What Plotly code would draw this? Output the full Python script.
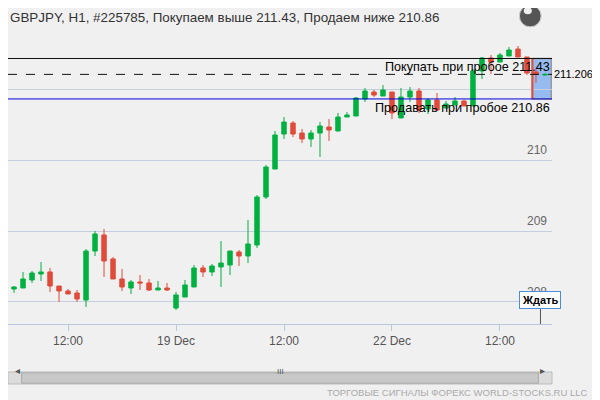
import plotly.graph_objects as go

idx = list(range(60))
opens = [208.183,208.197,208.310,208.394,208.423,208.225,208.155,208.127,208.028,208.718,
         208.944,208.606,208.324,208.197,208.282,208.268,208.169,208.197,207.915,208.070,
         208.211,208.479,208.423,208.493,208.521,208.704,208.648,208.803,209.479,209.873,
         210.366,210.521,210.380,210.296,210.380,210.465,210.408,210.606,210.620,210.859,
         210.958,210.901,210.958,210.592,210.887,210.972,210.718,210.845,210.732,210.775,
         210.831,210.761,211.254,211.437,211.380,211.465,211.563,211.451,211.239,211.197]
highs = [208.225,208.423,208.437,208.563,208.479,208.225,208.183,208.169,208.746,209.000,
         209.028,208.634,208.465,208.310,208.380,208.324,208.296,208.268,208.141,208.310,
         208.521,208.521,208.535,208.859,208.718,208.732,209.155,209.507,209.930,210.408,
         210.606,210.549,210.437,210.423,210.535,210.577,210.662,210.676,210.887,211.014,
         210.986,211.056,210.958,211.014,211.028,211.014,210.873,210.944,210.831,210.887,
         210.845,211.282,211.451,211.479,211.507,211.592,211.606,211.451,211.296,211.220]
lows = [208.127,208.197,208.268,208.296,208.141,208.000,208.113,208.000,207.930,208.648,
        208.352,208.324,208.155,208.113,208.169,208.155,208.169,208.155,207.887,208.070,
        208.211,208.352,208.366,208.211,208.380,208.507,208.549,208.761,209.451,209.873,
        210.296,210.324,210.239,210.183,210.042,210.268,210.408,210.606,210.620,210.817,
        210.887,210.901,210.577,210.592,210.817,210.662,210.648,210.690,210.732,210.775,
        210.761,210.761,211.141,211.211,211.380,211.465,211.451,211.197,211.085,211.190]
closes = [208.211,208.324,208.408,208.423,208.225,208.155,208.113,208.042,208.718,208.958,
          208.577,208.324,208.211,208.282,208.268,208.169,208.197,208.169,208.099,208.239,
          208.479,208.423,208.507,208.549,208.718,208.648,208.817,209.479,209.901,210.352,
          210.535,210.366,210.296,210.380,210.479,210.423,210.606,210.634,210.873,210.972,
          210.915,210.986,210.662,210.887,210.972,210.704,210.845,210.704,210.789,210.831,
          210.761,211.254,211.437,211.380,211.479,211.549,211.451,211.225,211.211,211.206]

buy_level = 211.43
sell_level = 210.86
current = 211.206
tick_pos = [6, 18, 30, 42, 54]
tick_text = ["12:00", "19 Dec", "12:00", "22 Dec", "12:00"]
y_grid = [208, 209, 210, 211]
y_labels = ["208", "209", "210", ""]

FONT = "Liberation Sans"

fig = go.Figure(go.Candlestick(
    x=idx, open=opens, high=highs, low=lows, close=closes,
    increasing=dict(line=dict(color="#00b140", width=1), fillcolor="#00b140"),
    decreasing=dict(line=dict(color="#e04b3a", width=1), fillcolor="#e04b3a"),
    whiskerwidth=0, showlegend=False, hoverinfo="skip"))

shapes = []
shapes.append(dict(type="rect", xref="x", yref="y", x0=57.6, x1=59.7, y0=sell_level, y1=buy_level,
                   fillcolor="rgba(120,170,240,0.75)", line=dict(color="#999999", width=1.5), layer="below"))
shapes.append(dict(type="line", xref="x", yref="y", x0=57.6, x1=57.6, y0=sell_level, y1=buy_level,
                   line=dict(color="#e04b3a", width=2)))
shapes.append(dict(type="line", xref="paper", yref="y", x0=0, x1=1, y0=buy_level, y1=buy_level,
                   line=dict(color="#111111", width=1)))
shapes.append(dict(type="line", xref="paper", yref="y", x0=0, x1=1, y0=current, y1=current,
                   line=dict(color="#111111", width=1, dash="dash")))
shapes.append(dict(type="line", xref="paper", yref="y", x0=0, x1=1, y0=sell_level, y1=sell_level,
                   line=dict(color="#0000dd", width=1)))
shapes.append(dict(type="line", xref="x", yref="y", x0=58.5, x1=58.5, y0=207.69, y1=207.9,
                   line=dict(color="#555555", width=1)))
# scrollbar
shapes.append(dict(type="rect", xref="paper", yref="paper", x0=0, x1=1, y0=-0.172, y1=-0.215,
                   fillcolor="#dcdcdc", line=dict(color="#bbbbbb", width=1)))
shapes.append(dict(type="rect", xref="paper", yref="paper", x0=0.025, x1=0.975, y0=-0.175, y1=-0.212,
                   fillcolor="#c8c8c8", line=dict(color="#aaaaaa", width=1)))
# globe icon
shapes.append(dict(type="circle", xref="paper", yref="paper", x0=0.94, x1=0.98, y0=1.065, y1=1.143,
                   fillcolor="#555555", line=dict(color="#cccccc", width=1)))
shapes.append(dict(type="circle", xref="paper", yref="paper", x0=0.948, x1=0.963, y0=1.11, y1=1.135,
                   fillcolor="#eeeeee", line=dict(width=0)))

ann = []
for v, t in zip(y_grid, y_labels):
    if t:
        ann.append(dict(x=0.995, xref="paper", y=v, yref="y", text=t, showarrow=False, xanchor="right",
                        yanchor="bottom", font=dict(size=12, color="#666666", family=FONT), yshift=1))
ann.append(dict(x=1, xref="paper", y=buy_level, yref="y", text="Покупать при пробое 211.43", showarrow=False,
                xanchor="right", yanchor="top", font=dict(size=12.6, color="#000000", family=FONT)))
ann.append(dict(x=1, xref="paper", y=sell_level, yref="y", text="Продавать при пробое 210.86", showarrow=False,
                xanchor="right", yanchor="top", font=dict(size=12.6, color="#000000", family=FONT)))
ann.append(dict(x=1, xref="paper", y=current, yref="y", text="211.206", showarrow=False,
                xanchor="left", yanchor="middle", font=dict(size=11, color="#000000", family=FONT)))
ann.append(dict(x=58.5, xref="x", y=207.9, yref="y", text="<b>Ждать</b>", showarrow=False,
                xanchor="center", yanchor="bottom", bgcolor="#ffffff", bordercolor="#4a90e2",
                borderwidth=1, borderpad=2, font=dict(size=11, color="#000000", family=FONT)))
ann.append(dict(x=0, xref="paper", y=1.1326, yref="paper", text="GBPJPY, H1, #225785, Покупаем выше 211.43, Продаем ниже 210.86",
                showarrow=False, xanchor="left", yanchor="top",
                font=dict(size=13.4, color="#333333", family=FONT)))
ann.append(dict(x=1.07, xref="paper", y=-0.247, yref="paper", text="ТОРГОВЫЕ СИГНАЛЫ ФОРЕКС WORLD-STOCKS.RU LLC",
                showarrow=False, xanchor="right", yanchor="middle", font=dict(size=9.5, color="#aaaaaa", family=FONT)))
ann.append(dict(x=0.5, xref="paper", y=-0.193, yref="paper", text="III", showarrow=False,
                font=dict(size=8, color="#555555", family=FONT)))
ann.append(dict(x=0.01, xref="paper", y=-0.193, yref="paper", text="◂", showarrow=False,
                font=dict(size=10, color="#555555")))
ann.append(dict(x=0.99, xref="paper", y=-0.193, yref="paper", text="▸", showarrow=False,
                font=dict(size=10, color="#555555")))

fig.update_layout(
    width=592, height=392, margin=dict(l=0, r=48, t=37, b=76, autoexpand=False),
    paper_bgcolor="#f0f0f0", plot_bgcolor="#f0f0f0",
    shapes=shapes, annotations=ann,
    font=dict(family=FONT, color="#555555"),
    xaxis=dict(range=[-0.67, 59.78], tickvals=tick_pos, ticktext=tick_text, showgrid=False,
               rangeslider=dict(visible=False), ticks="outside", ticklen=6, tickcolor="#b8c8dc",
               showline=True, linecolor="#b8c8dc", tickfont=dict(size=12, color="#555555", family=FONT),
               zeroline=False),
    yaxis=dict(range=[207.69, 211.62], tickvals=y_grid, showticklabels=False, gridcolor="#c4d0e0",
               zeroline=False, showline=False),
)
fig.write_html("out.html")
